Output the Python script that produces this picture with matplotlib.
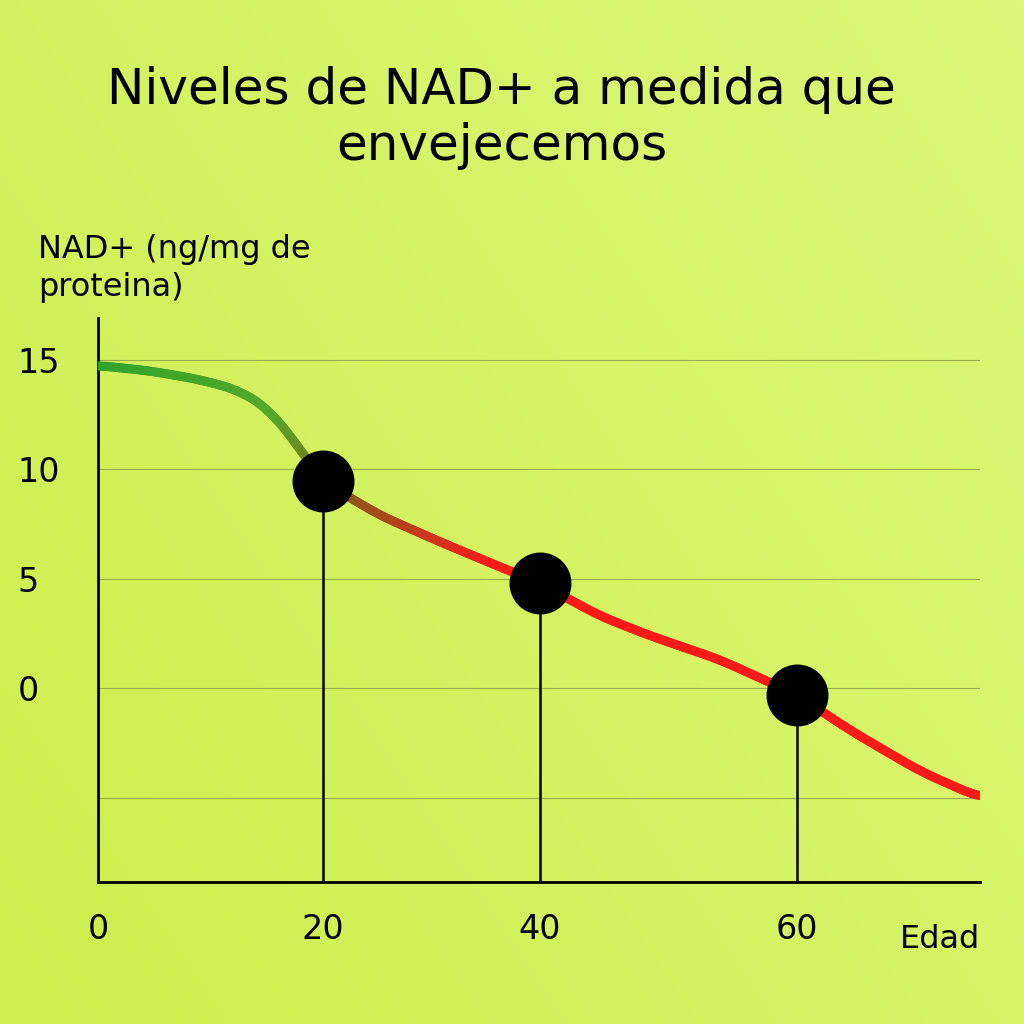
import numpy as np
import matplotlib
matplotlib.use("Agg")
import matplotlib.pyplot as plt
from matplotlib.collections import LineCollection
from matplotlib.colors import LinearSegmentedColormap

ages = [0, 4.5, 8.8, 12.2, 14.8, 17.4, 19.3, 24.2, 30.2, 37.9, 43.1, 47.4, 53.4, 60.0, 64.5, 70.6, 75.7]
nad = [14.75, 14.5, 14.1, 13.6, 12.7, 10.9, 9.45, 7.9, 6.5, 4.8, 3.3, 2.4, 1.3, -0.3, -1.9, -3.8, -5.0]
point_ages = [19.3, 37.9, 60.0]
point_nad = [9.45, 4.8, -0.3]
xticks = [0, 19.3, 37.9, 60.0]
xticklabels = ["0", "20", "40", "60"]
yticks = [15, 10, 5, 0]

fig = plt.figure(figsize=(10.24, 10.24), dpi=100)
bg = fig.add_axes([0, 0, 1, 1], zorder=-1)
g = np.linspace(0, 1, 256)
X, Y = np.meshgrid(g, g)
bgcmap = LinearSegmentedColormap.from_list("bg", ["#cdee4c", "#def77a"])
bg.imshow(0.6 * X + 0.4 * (1 - Y), cmap=bgcmap, aspect="auto", extent=[0, 1, 0, 1])
bg.axis("off")

ax = fig.add_axes([0.0957, 0.1387, 0.8613, 0.5503])
ax.set_facecolor("none")
ax.set_xlim(0, 75.7)
ax.set_ylim(-8.85, 16.9)
for yv in [15, 10, 5, 0, -5]:
    ax.axhline(yv, color="#9aab4a", lw=0.8, zorder=1)

xs = np.linspace(ages[0], ages[-1], 400)
ys = np.interp(xs, ages, nad)
ys = np.convolve(np.pad(ys, 8, mode="edge"), np.ones(17) / 17, mode="valid")
pts = np.array([xs, ys]).T.reshape(-1, 1, 2)
segs = np.concatenate([pts[:-1], pts[1:]], axis=1)
lcmap = LinearSegmentedColormap.from_list("l", [(0, "#2fa52a"), (0.2, "#55a828"), (0.28, "#8a5a1c"), (0.45, "#ff1a1a"), (1, "#ff1a1a")])
lc = LineCollection(segs, cmap=lcmap, linewidth=6.5, zorder=3, capstyle="round")
lc.set_array(xs[:-1] / xs[-1])
ax.add_collection(lc)

for a, v in zip(point_ages, point_nad):
    ax.plot([a, a], [-8.85, v], color="black", lw=1.8, zorder=4)
ax.scatter(point_ages, point_nad, s=1900, color="black", zorder=5)

for s in ["top", "right"]:
    ax.spines[s].set_visible(False)
ax.spines["left"].set_linewidth(2)
ax.spines["bottom"].set_linewidth(2)
ax.set_yticks(yticks)
ax.set_yticklabels([str(t) for t in yticks], fontsize=24)
for lab in ax.get_yticklabels():
    lab.set_horizontalalignment("left")
ax.set_xticks(xticks)
ax.set_xticklabels(xticklabels, fontsize=24)
ax.tick_params(axis="x", length=0, pad=22)
ax.tick_params(axis="y", length=0, pad=58)

fig.text(0.49, 0.885, "Niveles de NAD+ a medida que\nenvejecemos", ha="center", va="center",
         fontsize=36, linespacing=1.2)
fig.text(0.037, 0.738, "NAD+ (ng/mg de\nproteina)", ha="left", va="center", fontsize=23, linespacing=1.3)
fig.text(0.957, 0.083, "Edad", ha="right", va="center", fontsize=23)

fig.savefig("out.png", dpi=100)
